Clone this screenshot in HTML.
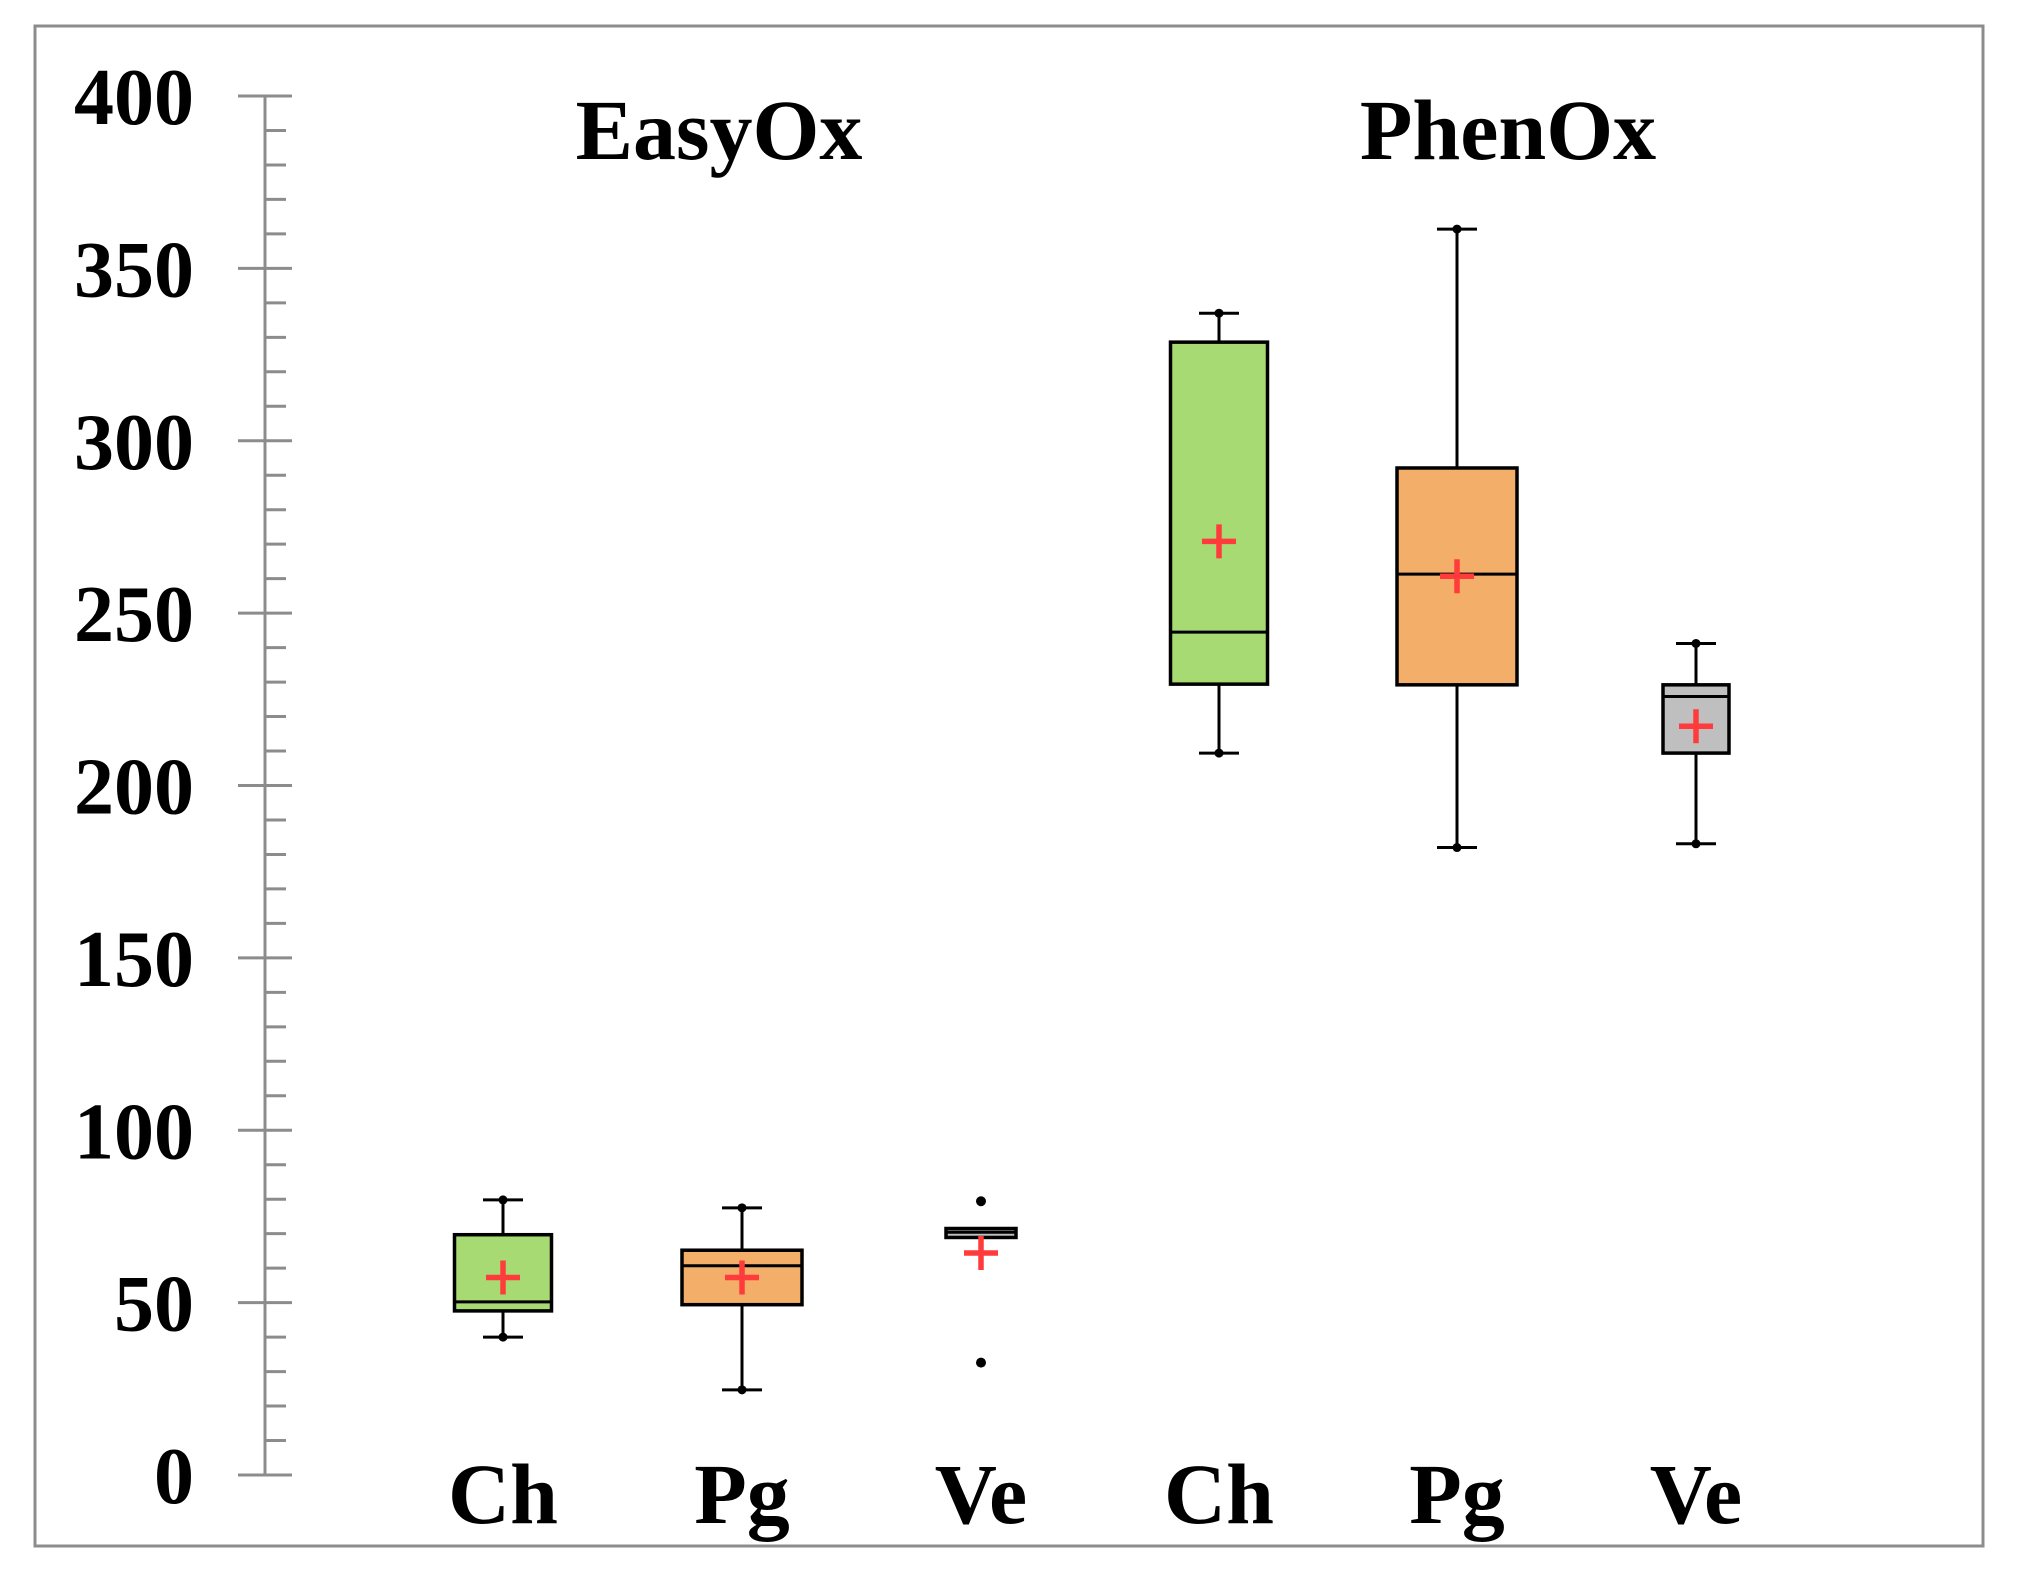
<!DOCTYPE html>
<html><head><meta charset="utf-8"><style>
html,body{margin:0;padding:0;background:#fff;}
svg{display:block;}
text{font-family:"Liberation Serif",serif;font-weight:bold;fill:#000;}
</style></head><body>
<svg id="chart" width="2024" height="1591" viewBox="0 0 2024 1591" xmlns="http://www.w3.org/2000/svg">
<rect x="35" y="26" width="1948" height="1520" fill="#fff" stroke="#8c8c8c" stroke-width="3"/>
<g id="axis"></g>
<g id="titles">
<text x="719" y="159" font-size="86" text-anchor="middle">EasyOx</text>
<text x="1508" y="159" font-size="86" text-anchor="middle">PhenOx</text>
</g>
<g id="boxes"></g>
<g id="cats"></g>
</svg>
<script>
const categories = ["Ch","Pg","Ve","Ch","Pg","Ve"];
const q1Values = [47.6, 49.4, 68.9, 229.4, 229.2, 209.4];
const medianValues = [50.2, 60.7, 70.4, 244.5, 261.3, 225.8];
const q3Values = [69.7, 65.2, 71.5, 328.6, 292.1, 229.2];
const whiskerLow = [40, 24.7, null, 209.4, 182, 183.1];
const whiskerHigh = [79.8, 77.5, null, 337, 361.4, 241.2];
const meanValues = [57.3, 57.3, 64.4, 270.8, 260.7, 217.2];
const outlierValues = [[], [], [79.4, 32.6], [], [], []];
const yTicks = [0,50,100,150,200,250,300,350,400];

const NS="http://www.w3.org/2000/svg";
const yScale=v=>1475-v*3.4475;
const xCenters=[503,742,981,1219,1457,1696];
const widths=[97,120,70,97,120,66];
const fills=["#a8da74","#f3ae69","#bfbfbf","#a8da74","#f3ae69","#bfbfbf"];
function mk(tag,attrs,parent){const e=document.createElementNS(NS,tag);for(const k in attrs)e.setAttribute(k,attrs[k]);parent.appendChild(e);return e;}

const axis=document.getElementById('axis');
let ax=mk('line',{x1:265,x2:265,y1:yScale(400),y2:yScale(0),stroke:'#8c8c8c','stroke-width':3},axis);


for(let v=0;v<=400;v+=10){
  const major=v%50===0;
  const t=mk('line',{x1:major?238:265,x2:major?292:286,y1:yScale(v),y2:yScale(v),stroke:'#8c8c8c','stroke-width':3},axis);
  
  
}
yTicks.forEach(v=>{
  const t=mk('text',{x:194,y:yScale(v)+28,'font-size':80,'text-anchor':'end'},axis);
  t.textContent=String(v);
  
  
});

const boxes=document.getElementById('boxes');
categories.forEach((c,i)=>{
  const g=mk('g',{},boxes);
  
  
  const cx=xCenters[i],w=widths[i];
  if(whiskerHigh[i]!==null){
    const wl=mk('line',{x1:cx,x2:cx,y1:yScale(whiskerHigh[i]),y2:yScale(q3Values[i]),stroke:'#000','stroke-width':3},g);
    
    
    const wl2=mk('line',{x1:cx,x2:cx,y1:yScale(q1Values[i]),y2:yScale(whiskerLow[i]),stroke:'#000','stroke-width':3},g);
    
    
    [whiskerHigh[i],whiskerLow[i]].forEach(v=>{
      const cap=mk('line',{x1:cx-20,x2:cx+20,y1:yScale(v),y2:yScale(v),stroke:'#000','stroke-width':3},g);
      
      
      const d=mk('circle',{cx:cx,cy:yScale(v),r:4.5,fill:'#000'},g);
      
      
    });
  }
  const r=mk('rect',{x:cx-w/2,y:yScale(q3Values[i]),width:w,height:yScale(q1Values[i])-yScale(q3Values[i]),fill:fills[i],stroke:'#000','stroke-width':3.5},g);
  
  
  const m=mk('line',{x1:cx-w/2,x2:cx+w/2,y1:yScale(medianValues[i]),y2:yScale(medianValues[i]),stroke:'#000','stroke-width':3},g);
  
  
  outlierValues[i].forEach(v=>{
    const o=mk('circle',{cx:cx,cy:yScale(v),r:5,fill:'#000'},g);
    
    
  });
  const my=yScale(meanValues[i]);
  const p=mk('path',{d:`M${cx-17} ${my}H${cx+17}M${cx} ${my-17}V${my+17}`,stroke:'#ff3b3b','stroke-width':5.5,fill:'none'},g);
  
  
});

const cats=document.getElementById('cats');
categories.forEach((c,i)=>{
  const t=mk('text',{x:xCenters[i],y:1523,'font-size':86,'text-anchor':'middle'},cats);
  t.textContent=c;
  
  
});
</script>
</body></html>
